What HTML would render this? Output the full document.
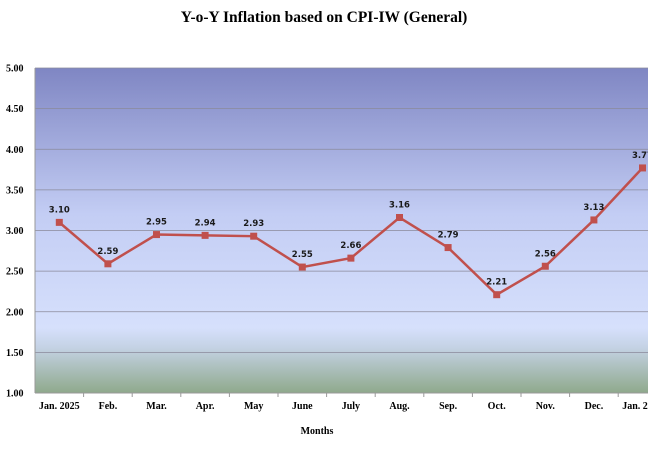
<!DOCTYPE html>
<html><head><meta charset="utf-8"><style>
body{margin:0;background:#fff;width:648px;height:462px;overflow:hidden}
svg{display:block}
</style></head><body>
<svg id="chart" width="648" height="462" xmlns="http://www.w3.org/2000/svg">
<defs>
<linearGradient id="bg" x1="0" y1="0" x2="0" y2="1">
<stop offset="0" stop-color="#7f86c3"/>
<stop offset="0.45" stop-color="#c3cdf4"/>
<stop offset="0.8" stop-color="#d6e0fc"/>
<stop offset="0.86" stop-color="#c4d2e4"/>
<stop offset="1" stop-color="#8fa98c"/>
</linearGradient>
</defs>
<text x="324" y="22" text-anchor="middle" font-family="Liberation Serif, serif" font-weight="bold" font-size="15.5">Y-o-Y Inflation based on CPI-IW (General)</text>
<rect x="35" y="68" width="640" height="325" fill="url(#bg)"/>
<g id="grid"></g>
<g id="axes"></g>
<g id="series"></g>
<text x="317" y="434" text-anchor="middle" font-family="Liberation Serif, serif" font-weight="bold" font-size="10">Months</text>
</svg>
<script>
const categories=["Jan. 2025","Feb.","Mar.","Apr.","May","June","July","Aug.","Sep.","Oct.","Nov.","Dec.","Jan. 2026"];
const values=[3.10,2.59,2.95,2.94,2.93,2.55,2.66,3.16,2.79,2.21,2.56,3.13,3.77];
const yTicks=[1.00,1.50,2.00,2.50,3.00,3.50,4.00,4.50,5.00];
const NS="http://www.w3.org/2000/svg";
const L=35,T=68,B=393,step=48.6;
const y=v=>B-(v-1)/(5-1)*(B-T);
const x=i=>L+step*(i+0.5);
function mk(tag,attrs,parent){const e=document.createElementNS(NS,tag);for(const k in attrs)e.setAttribute(k,attrs[k]);parent.appendChild(e);return e;}
const grid=document.getElementById('grid'),axes=document.getElementById('axes'),ser=document.getElementById('series');
yTicks.forEach(t=>{
 if(t>1){const g=mk('line',{x1:L,x2:648,y1:y(t),y2:y(t),stroke:'#8a8a9a','stroke-width':0.8},grid);
 
 }
 const lb=mk('text',{x:6,y:y(t)+3.5,'font-family':'Liberation Serif, serif','font-weight':'bold','font-size':10},axes);
 lb.textContent=t.toFixed(2);
 
 
});
mk('line',{x1:L,x2:L,y1:T,y2:B,stroke:'#999','stroke-width':1},axes);
mk('line',{x1:L,x2:648,y1:B,y2:B,stroke:'#999','stroke-width':1},axes);
categories.forEach((c,i)=>{
 mk('line',{x1:L+step*(i+1),x2:L+step*(i+1),y1:B,y2:B+4,stroke:'#999'},axes);
 const lb=mk('text',{x:x(i),y:409,'text-anchor':'middle','font-family':'Liberation Serif, serif','font-weight':'bold','font-size':10},axes);
 lb.textContent=c;
 
 
});
const line=mk('polyline',{points:values.map((v,i)=>x(i)+','+y(v)).join(' '),fill:'none',stroke:'#c0504d','stroke-width':2.5},ser);


values.forEach((v,i)=>{
 const m=mk('rect',{x:x(i)-3.5,y:y(v)-3.5,width:7,height:7,fill:'#c0504d'},ser);
 
 
 const lb=mk('text',{x:x(i),y:y(v)-10,'text-anchor':'middle','font-family':'DejaVu Sans, sans-serif','font-weight':'bold','font-size':8.5,fill:'#1a1a1a'},ser);
 lb.textContent=v.toFixed(2);
 
 
});
</script>
</body></html>
